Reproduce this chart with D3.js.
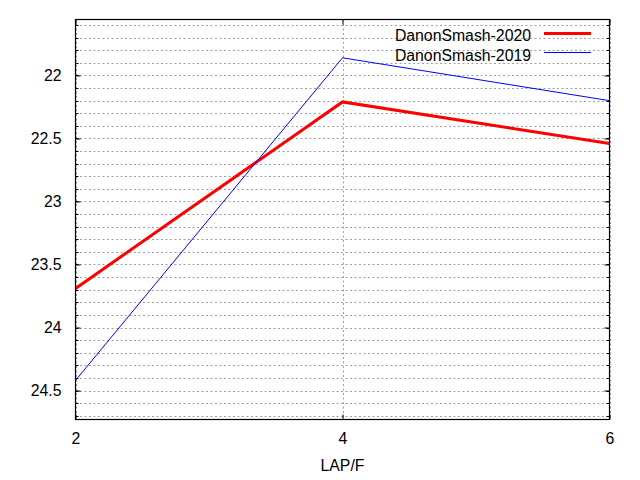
<!DOCTYPE html>
<html>
<head>
<meta charset="utf-8">
<script src="https://cdn.jsdelivr.net/npm/d3@7"></script>
<style>
  body { margin: 0; background: #fff; }
  svg { font-family: "Liberation Sans", Arial, sans-serif; }
</style>
</head>
<body>
<div id="chart"></div>
<script>
// values
var lapF = [2, 4, 6];
var smash2020 = [23.69, 22.21, 22.54];
var smash2019 = [24.42, 21.86, 22.20];
var seriesNames = ["DanonSmash-2020", "DanonSmash-2019"];
var yMajorTicks = [22, 22.5, 23, 23.5, 24, 24.5];
var xTicks = [2, 4, 6];
var xLabel = "LAP/F";

var width = 640, height = 480;
var plotLeft = 75.5, plotRight = 609.5, plotTop = 19.5, plotBottom = 419.5;
var fontSize = "15.8px";

var svg = d3.select("#chart")
  .append("svg")
  .attr("width", width)
  .attr("height", height);

svg.append("rect").attr("width", width).attr("height", height).attr("fill", "#fff");

var x = d3.scaleLinear().domain([2, 6]).range([plotLeft, plotRight]);
// y axis is reversed: small values at the top
var y = d3.scaleLinear().domain([21.556, 24.73]).range([plotTop, plotBottom]);

// minor ticks every 0.1
var yMinor = d3.range(216, 248).map(function (d) { return d / 10; });

// grid
var grid = svg.append("g")
  .attr("stroke", "#a0a0a0")
  .attr("stroke-width", 1)
  .attr("stroke-dasharray", "2,2.5");

grid.selectAll("line.h")
  .data(yMinor)
  .enter()
  .append("line")
  .attr("class", "h")
  .attr("x1", plotLeft)
  .attr("x2", plotRight)
  .attr("y1", function (d) { return Math.round(y(d)) + 0.5; })
  .attr("y2", function (d) { return Math.round(y(d)) + 0.5; });

grid.selectAll("line.v")
  .data(xTicks)
  .enter()
  .append("line")
  .attr("class", "v")
  .attr("x1", function (d) { return Math.round(x(d)) + 0.5; })
  .attr("x2", function (d) { return Math.round(x(d)) + 0.5; })
  .attr("y1", plotTop)
  .attr("y2", plotBottom);

// minor ticks, both sides
var ticks = svg.append("g").attr("stroke", "#000").attr("stroke-width", 1);
yMinor.forEach(function (v) {
  var yy = Math.round(y(v)) + 0.5;
  ticks.append("line").attr("x1", plotLeft).attr("x2", plotLeft + 3).attr("y1", yy).attr("y2", yy);
  ticks.append("line").attr("x1", plotRight).attr("x2", plotRight - 3).attr("y1", yy).attr("y2", yy);
});

// axes (ticks pointing inward like gnuplot)
var yAxis = d3.axisLeft(y)
  .tickValues(yMajorTicks)
  .tickSize(-5)
  .tickPadding(14)
  .tickFormat(function (d) { return String(d); });

var yAxisR = d3.axisRight(y)
  .tickValues(yMajorTicks)
  .tickSize(-5)
  .tickFormat("");

var xAxis = d3.axisBottom(x)
  .tickValues(xTicks)
  .tickSize(-5)
  .tickPadding(13)
  .tickFormat(d3.format("d"));

var xAxisT = d3.axisTop(x)
  .tickValues(xTicks)
  .tickSize(-5)
  .tickFormat("");

function styleAxis(g) {
  g.select(".domain").remove();
  g.selectAll("line").attr("stroke", "#000");
  g.selectAll("text")
    .attr("fill", "#000")
    .style("font-size", fontSize)
    .style("font-family", "Liberation Sans, Arial, sans-serif");
}

svg.append("g").attr("transform", "translate(" + plotLeft + ",0)").call(yAxis).call(styleAxis);
svg.append("g").attr("transform", "translate(" + plotRight + ",0)").call(yAxisR).call(styleAxis);
svg.append("g").attr("transform", "translate(0," + plotBottom + ")").call(xAxis).call(styleAxis);
svg.append("g").attr("transform", "translate(0," + plotTop + ")").call(xAxisT).call(styleAxis);

// series
var line = d3.line()
  .x(function (d) { return x(d[0]); })
  .y(function (d) { return y(d[1]); });

svg.append("clipPath").attr("id", "plot-clip")
  .append("rect")
  .attr("x", plotLeft).attr("y", plotTop)
  .attr("width", plotRight - plotLeft).attr("height", plotBottom - plotTop);

svg.append("path")
  .datum(d3.zip(lapF, smash2020))
  .attr("d", line)
  .attr("fill", "none")
  .attr("stroke", "#ff0000")
  .attr("stroke-width", 3)
  .attr("clip-path", "url(#plot-clip)");

svg.append("path")
  .datum(d3.zip(lapF, smash2019))
  .attr("d", line)
  .attr("fill", "none")
  .attr("stroke", "#0000ff")
  .attr("stroke-width", 1)
  .attr("clip-path", "url(#plot-clip)");

// border
svg.append("rect")
  .attr("x", plotLeft).attr("y", plotTop)
  .attr("width", plotRight - plotLeft).attr("height", plotBottom - plotTop)
  .attr("fill", "none")
  .attr("stroke", "#000")
  .attr("stroke-width", 1.2);

// legend
var legend = svg.append("g").style("font-size", fontSize);
var legendColors = ["#ff0000", "#0000ff"];
var legendWidths = [3, 1];
seriesNames.forEach(function (name, i) {
  legend.append("text")
    .attr("x", 531)
    .attr("y", 41 + i * 20)
    .attr("text-anchor", "end")
    .attr("fill", "#000")
    .text(name);
  legend.append("line")
    .attr("x1", 544).attr("x2", 591)
    .attr("y1", 33.5 + i * 19).attr("y2", 33.5 + i * 19)
    .attr("stroke", legendColors[i])
    .attr("stroke-width", legendWidths[i]);
});

// x label
svg.append("text")
  .attr("x", (plotLeft + plotRight) / 2)
  .attr("y", 471)
  .attr("text-anchor", "middle")
  .style("font-size", fontSize)
  .attr("fill", "#000")
  .text(xLabel);
</script>
</body>
</html>
